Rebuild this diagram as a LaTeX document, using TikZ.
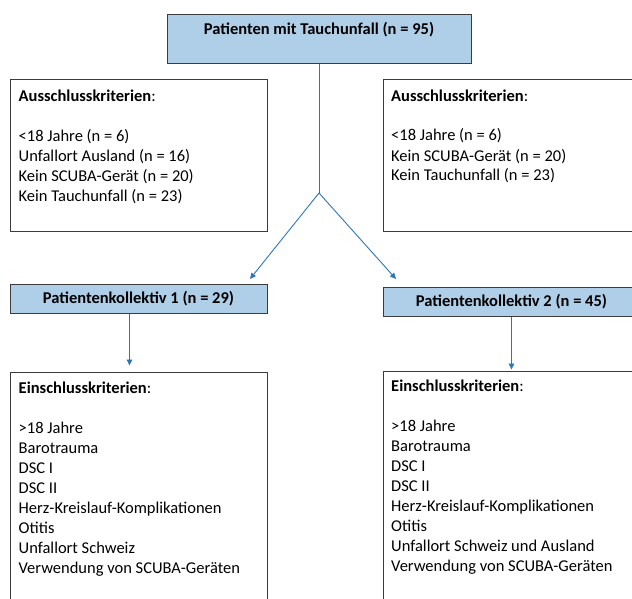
\documentclass[tikz,border=0pt]{standalone}
\usepackage{fontspec}
\setmainfont{Carlito}
\usetikzlibrary{arrows.meta}
\definecolor{boxblue}{RGB}{175,207,233}
\definecolor{arrblue}{RGB}{46,117,182}
\definecolor{edge}{RGB}{60,60,60}
\begin{document}
\begin{tikzpicture}[x=1pt,y=-1pt,
  box/.style={draw=edge,line width=1pt,fill=white,inner sep=0pt},
  bluebox/.style={box,fill=boxblue,font=\fontsize{16.5}{20}\selectfont\bfseries},
  txt/.style={inner sep=0pt,align=left,anchor=base west,font=\fontsize{16.5}{20}\selectfont},
  btxt/.style={inner sep=0pt,font=\fontsize{16.5}{20}\selectfont\bfseries},
  arr/.style={draw=arrblue,line width=0.9pt,-{Triangle[length=6pt,width=5.5pt]}},
  ln/.style={draw=arrblue,line width=0.9pt}]
\useasboundingbox (0,0) rectangle (632,599);
\clip (0,0) rectangle (632,599);
% boxes
\node[bluebox,minimum width=304pt,minimum height=49pt] (top) at (319,39.5) {};
\node[btxt] (toptext) at (319,30) {Patienten mit Tauchunfall (n = 95)};
\node[box,minimum width=257pt,minimum height=151pt] (ausL) at (138.5,155.5) {};
\node[box,minimum width=257pt,minimum height=151pt] (ausR) at (511.5,155.5) {};
\node[bluebox,minimum width=257pt,minimum height=29pt] (pk1) at (138.5,298.5) {Patientenkollektiv 1 (n = 29)};
\node[bluebox,minimum width=257pt,minimum height=29pt] (pk2) at (511.5,301.5) {Patientenkollektiv 2 (n = 45)};
\node[box,minimum width=257pt,minimum height=250pt] (einL) at (138.5,497) {};
\node[box,minimum width=257pt,minimum height=250pt] (einR) at (511.5,496) {};
% texts (anchored at the baseline of their last line)
\node[txt] (tAusL) at (18.5,201) {\textbf{Ausschlusskriterien}:\\[20pt]
<18 Jahre (n = 6)\\
Unfallort Ausland (n = 16)\\
Kein SCUBA-Gerät (n = 20)\\
Kein Tauchunfall (n = 23)};
\node[txt] (tAusR) at (391,181) {\textbf{Ausschlusskriterien}:\\[20pt]
<18 Jahre (n = 6)\\
Kein SCUBA-Gerät (n = 20)\\
Kein Tauchunfall (n = 23)};
\node[txt] (tEinL) at (18.5,573) {\textbf{Einschlusskriterien}:\\[20pt]
>18 Jahre\\
Barotrauma\\
DSC I\\
DSC II\\
Herz-Kreislauf-Komplikationen\\
Otitis\\
Unfallort Schweiz\\
Verwendung von SCUBA-Geräten};
\node[txt] (tEinR) at (391,571) {\textbf{Einschlusskriterien}:\\[20pt]
>18 Jahre\\
Barotrauma\\
DSC I\\
DSC II\\
Herz-Kreislauf-Komplikationen\\
Otitis\\
Unfallort Schweiz und Ausland\\
Verwendung von SCUBA-Geräten};
% connectors
\coordinate (branch) at (319,193);
\coordinate (tipL) at (250,279);
\coordinate (tipR) at (396,279);
\draw[ln] (top.south) -- (branch);
\draw[arr] (branch) -- (tipL);
\draw[arr] (branch) -- (tipR);
\draw[arr] ([xshift=-9pt]pk1.south) -- ([xshift=-9pt,yshift=6pt]einL.north);
\draw[arr] (pk2.south) -- ([yshift=1pt]einR.north);
\end{tikzpicture}
\end{document}
